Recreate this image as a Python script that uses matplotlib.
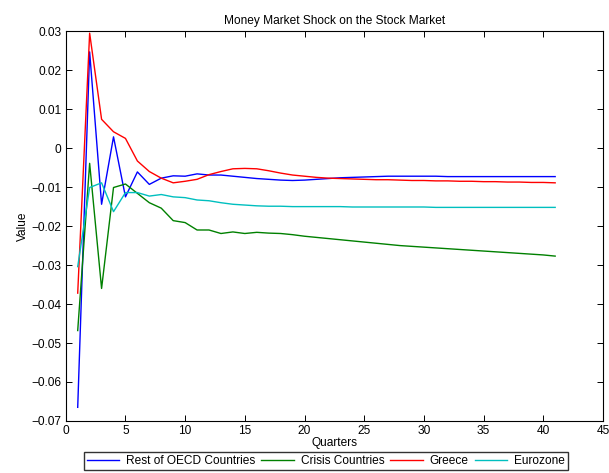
import numpy as np
import matplotlib
matplotlib.use("Agg")
import matplotlib.pyplot as plt
from matplotlib.ticker import FuncFormatter

plt.rcParams['font.family'] = ['Liberation Sans', 'DejaVu Sans']
plt.rcParams['axes.unicode_minus'] = True

quarters = np.arange(1, 42)

rest_oecd = [-0.0665, 0.0247, -0.0144, 0.0029, -0.0125, -0.0061, -0.0093, -0.0077, -0.0071, -0.0072,
             -0.0066, -0.0069, -0.0069, -0.0072, -0.0075, -0.0078, -0.0080, -0.0082, -0.0083, -0.0082,
             -0.0080, -0.0078, -0.0076, -0.0075, -0.0074, -0.0073, -0.0072, -0.0072, -0.0072, -0.0072,
             -0.0072, -0.0073, -0.0073, -0.0073, -0.0073, -0.0073, -0.0073, -0.0073, -0.0073, -0.0073,
             -0.0073]
crisis = [-0.0468, -0.0039, -0.0360, -0.0101, -0.0092, -0.0116, -0.0140, -0.0154, -0.0186, -0.0191,
          -0.0210, -0.0210, -0.0219, -0.0215, -0.0219, -0.0216, -0.0218, -0.0219, -0.0222, -0.0226,
          -0.0229, -0.0232, -0.0235, -0.0238, -0.0241, -0.0244, -0.0247, -0.0250, -0.0252, -0.0254,
          -0.0256, -0.0258, -0.0260, -0.0262, -0.0264, -0.0266, -0.0268, -0.0270, -0.0272, -0.0274,
          -0.0277]
greece = [-0.0372, 0.0295, 0.0074, 0.0042, 0.0025, -0.0033, -0.0060, -0.0077, -0.0089, -0.0085,
          -0.0080, -0.0068, -0.0060, -0.0053, -0.0052, -0.0053, -0.0058, -0.0064, -0.0069, -0.0072,
          -0.0075, -0.0077, -0.0078, -0.0079, -0.0080, -0.0081, -0.0081, -0.0082, -0.0083, -0.0083,
          -0.0084, -0.0084, -0.0085, -0.0085, -0.0086, -0.0086, -0.0087, -0.0087, -0.0088, -0.0088,
          -0.0089]
eurozone = [-0.0304, -0.0101, -0.0089, -0.0163, -0.0114, -0.0114, -0.0123, -0.0119, -0.0125, -0.0127,
            -0.0133, -0.0135, -0.0140, -0.0144, -0.0146, -0.0148, -0.0149, -0.0149, -0.0150, -0.0150,
            -0.0150, -0.0150, -0.0150, -0.0151, -0.0151, -0.0151, -0.0151, -0.0151, -0.0151, -0.0151,
            -0.0152, -0.0152, -0.0152, -0.0152, -0.0152, -0.0152, -0.0152, -0.0152, -0.0152, -0.0152,
            -0.0152]

fs = 8.6
fig = plt.figure(figsize=(6.09, 4.73), dpi=100)
ax = fig.add_axes([0.108, 0.110, 0.882, 0.824])

ax.plot(quarters, rest_oecd, color=(0, 0, 1), lw=1, label='Rest of OECD Countries')
ax.plot(quarters, crisis, color=(0, 0.5, 0), lw=1, label='Crisis Countries')
ax.plot(quarters, greece, color=(1, 0, 0), lw=1, label='Greece')
ax.plot(quarters, eurozone, color=(0, 0.75, 0.75), lw=1, label='Eurozone')

ax.set_xlim(0, 45)
ax.set_ylim(-0.07, 0.03)
ax.set_xticks(np.arange(0, 46, 5))
ax.set_yticks(np.arange(-0.07, 0.031, 0.01))
ax.yaxis.set_major_formatter(FuncFormatter(lambda v, p: ('%g' % round(v, 2)).replace('-', '\u2212')))
ax.tick_params(direction='in', top=True, right=True, labelsize=fs, length=4, width=0.7, pad=3)
for s in ax.spines.values():
    s.set_linewidth(0.8)

ax.set_title('Money Market Shock on the Stock Market', fontsize=fs, pad=5)
ax.set_xlabel('Quarters', fontsize=fs, labelpad=0)
ax.set_ylabel('Value', fontsize=fs, labelpad=2)

leg = fig.legend(loc='center', bbox_to_anchor=(0.535, 0.025), ncol=4, fontsize=fs,
                 frameon=True, fancybox=False, handlelength=2.7, handletextpad=0.6,
                 columnspacing=0.5, borderpad=0.25, borderaxespad=0)
leg.get_frame().set_edgecolor('black')
leg.get_frame().set_linewidth(1)

fig.savefig('out.png', dpi=100)
